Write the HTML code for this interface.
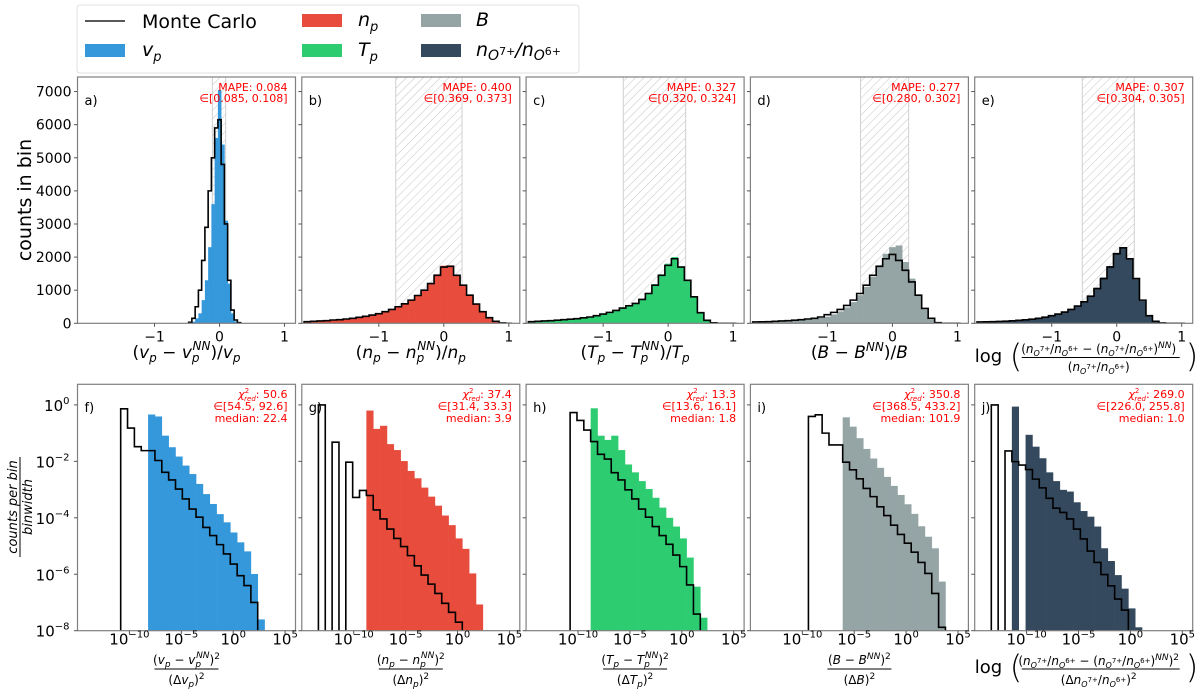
<!DOCTYPE html>
<html><head><meta charset="utf-8"><style>
html,body{margin:0;padding:0;background:#fff;}
svg{display:block;font-family:"DejaVu Sans","Liberation Sans",sans-serif;}
</style></head><body>
<svg id="fig" width="1200" height="693" viewBox="0 0 1200 693" xmlns="http://www.w3.org/2000/svg">
<defs>
<pattern id="hatch" patternUnits="userSpaceOnUse" width="6" height="6" patternTransform="rotate(45)">
<line x1="0" y1="0" x2="0" y2="6" stroke="#c4c4c4" stroke-width="1"/>
</pattern>
</defs>
<g id="legend">
<rect x="77" y="5" width="502" height="68" rx="3" fill="#fff" stroke="#e0e0e0" stroke-width="1"/>
<line x1="85" y1="21" x2="125" y2="21" stroke="#222" stroke-width="1.5"/>
<text x="142" y="28" font-size="19">Monte Carlo</text>
<rect x="85" y="44" width="40" height="13" fill="#3498db"/>
<text x="142" y="56" font-size="19" font-style="italic">v<tspan font-size="13" dy="5">p</tspan></text>
<rect x="302" y="14" width="40" height="13" fill="#e74c3c"/>
<text x="358" y="26" font-size="19" font-style="italic">n<tspan font-size="13" dy="5">p</tspan></text>
<rect x="302" y="44" width="40" height="13" fill="#2ecc71"/>
<text x="358" y="56" font-size="19" font-style="italic">T<tspan font-size="13" dy="5">p</tspan></text>
<rect x="421" y="14" width="40" height="13" fill="#95a5a6"/>
<text x="476" y="26" font-size="19" font-style="italic">B</text>
<rect x="421" y="44" width="40" height="13" fill="#34495e"/>
<text x="476" y="56" font-size="19" font-style="italic">n<tspan font-size="14" dy="4">O</tspan><tspan font-size="11" dy="-5" font-style="normal">7+</tspan><tspan dy="1">/n</tspan><tspan font-size="14" dy="4">O</tspan><tspan font-size="11" dy="-5" font-style="normal">6+</tspan></text>
</g>
<g id="plots"></g>
<text transform="translate(31,200) rotate(-90)" text-anchor="middle" font-size="19">counts in bin</text>
<g transform="translate(20,507) rotate(-90)">
<text x="0" y="-3" text-anchor="middle" font-size="13" font-style="italic">counts per bin</text>
<line x1="-50" y1="0" x2="50" y2="0" stroke="#000" stroke-width="1"/>
<text x="0" y="12" text-anchor="middle" font-size="13" font-style="italic">binwidth</text>
</g>
</svg>
<script>
// ---------- data ----------
const colors = ["#3498db","#e74c3c","#2ecc71","#95a5a6","#34495e"];
const panelLettersTop = ["a)","b)","c)","d)","e)"];
const panelLettersBot = ["f)","g)","h)","i)","j)"];
const mapeValues = ["0.084","0.400","0.327","0.277","0.307"];
const mapeIntervals = ["[0.085, 0.108]","[0.369, 0.373]","[0.320, 0.324]","[0.280, 0.302]","[0.304, 0.305]"];
const chiValues = ["50.6","37.4","13.3","350.8","269.0"];
const chiIntervals = ["[54.5, 92.6]","[31.4, 33.3]","[13.6, 16.1]","[368.5, 433.2]","[226.0, 255.8]"];
const medians = ["22.4","3.9","1.8","101.9","1.0"];
const hatchLow = [-0.11,-0.74,-0.69,-0.49,-0.53];
const hatchHigh = [0.095,0.28,0.27,0.25,0.27];
const topYTicks = [0,1000,2000,3000,4000,5000,6000,7000];
const topXTicks = [-1,0,1];
const botYTicks = [0,-2,-4,-6,-8];
const botXTicks = [-10,-5,0,5];

// panel a bins (centers, width 0.05)
const binsA = [-0.45,-0.4,-0.35,-0.3,-0.25,-0.2,-0.15,-0.1,-0.05,0,0.05,0.1,0.15,0.2,0.25,0.3];
const mcA =   [30,150,500,1000,1900,2900,4000,5000,5900,6150,4800,3000,1300,400,100,20];
const fillA = [10,50,150,300,700,1300,2300,3600,5600,7050,5400,3100,1200,300,60,10];
// panels b-e bins (centers, width 0.1)
const binsW = [-2.1,-2.0,-1.9,-1.8,-1.7,-1.6,-1.5,-1.4,-1.3,-1.2,-1.1,-1.0,-0.9,-0.8,-0.7,-0.6,-0.5,-0.4,-0.3,-0.2,-0.1,0,0.1,0.2,0.3,0.4,0.5,0.6,0.7,0.8,0.9,1.0];
const mcB =   [50,60,70,80,100,110,130,150,180,210,250,290,350,420,500,590,700,840,1000,1200,1450,1700,1720,1450,1150,850,580,350,170,60,10,0];
const fillB = [45,55,65,80,95,110,125,150,175,210,245,290,345,415,495,590,710,850,1010,1220,1480,1740,1750,1460,1150,840,570,340,160,55,8,0];
const mcC =   [50,60,70,80,95,110,125,140,165,190,230,280,330,390,460,530,600,720,900,1150,1450,1750,1950,1700,1300,800,320,90,15,0,0,0];
const fillC = [45,55,65,80,95,105,120,140,160,190,225,275,325,385,455,525,600,730,920,1180,1480,1800,2000,1720,1310,790,300,80,10,0,0,0];
const mcD =   [40,45,50,60,70,80,95,110,130,150,190,260,330,420,540,700,900,1150,1450,1720,1950,2080,1900,1600,1250,850,450,150,20,0,0,0];
const fillD = [35,40,45,50,60,70,80,95,110,130,160,200,270,360,480,640,850,1100,1400,1750,2100,2300,2350,1850,1350,850,420,120,10,0,0,0];
const mcE =   [40,45,50,55,65,75,90,105,125,150,185,230,280,340,420,520,650,820,1050,1350,1700,2100,2280,1950,1350,700,230,60,10,0,0,0];
const fillE = [35,40,45,55,65,75,85,100,120,145,180,225,275,335,415,515,650,830,1070,1380,1730,2130,2300,1960,1330,680,210,50,8,0,0,0];

// bottom panels: log10 bin start, bin width (decades), log10 values (null = empty)
const logStart = [-10.84,-13.4,-10.76,-9.41,-13.4];
const logWidth = 0.66;
const mcF = [-0.14,-0.82,-1.48,-1.62,-1.62,-1.97,-2.39,-2.66,-2.98,-3.33,-3.69,-3.98,-4.34,-4.63,-4.95,-5.28,-5.64,-6.05,-6.4,-7.0];
const fillF = [null,null,null,null,-0.34,-0.41,-1.09,-1.5,-1.83,-2.15,-2.45,-2.8,-3.16,-3.51,-3.87,-4.16,-4.52,-4.87,-5.19,-5.99,-7.6];
const mcG = [0.0,null,-1.32,null,-2.03,-3.28,-3.03,-3.21,-3.72,-4.04,-4.4,-4.73,-5.02,-5.34,-5.7,-6.03,-6.35,-6.68,-7.03,-7.35,-7.7];
const fillG = [null,null,null,null,null,null,null,-0.2,-0.85,-0.74,-1.39,-1.6,-1.99,-2.34,-2.6,-2.93,-3.25,-3.57,-3.92,-4.26,-4.73,-5.1,-5.97,-7.07];
const mcH = [-0.27,-0.55,-0.89,-1.3,-1.75,-1.92,-2.4,-2.66,-3.01,-3.33,-3.69,-3.98,-4.31,-4.63,-4.94,-5.32,-5.73,-6.38,-7.41];
const fillH = [null,null,null,-0.12,-1.09,-1.24,-1.09,-1.6,-2.11,-2.39,-2.7,-2.98,-3.29,-3.64,-4.0,-4.31,-4.73,-5.41,-6.44,-7.54];
const mcI = [-0.41,-0.35,-1.0,-1.42,-1.42,-2.03,-2.3,-2.62,-2.96,-3.25,-3.61,-3.92,-4.26,-4.59,-4.9,-5.22,-5.58,-5.97,-6.68,-7.88];
const fillI = [null,null,null,null,null,-0.44,-0.77,-1.18,-1.56,-1.9,-2.23,-2.55,-2.87,-3.19,-3.52,-3.86,-4.3,-4.67,-5.08,-6.26];
const mcJ = [0.0,null,-1.63,-2.01,-2.13,-2.29,-2.63,-2.94,-3.31,-3.66,-3.81,-4.04,-4.4,-4.75,-5.18,-5.58,-6.01,-6.41,-6.88,-7.27];
const fillJ = [null,null,null,-0.06,null,-1.06,-1.48,-1.89,-2.39,-2.7,-3.01,-3.07,-3.45,-3.76,-3.96,-4.31,-5.08,-5.53,-6.03,-6.51,-7.21,-7.88];

// ---------- layout ----------
const NS = "http://www.w3.org/2000/svg";
const lefts = [77.5,301.8,526.1,750.4,974.7];
const PW = 218;
const TOP0 = 77, TOP1 = 323.3, BOT0 = 384.3, BOT1 = 630.7;
const TXMIN = -2.185, TXMAX = 1.169, TYMAX = 7440;
const BXMIN = -15, BXMAX = 6, BYMIN = -8, BYMAX = 0.73;
function xTop(p, v){ return lefts[p] + (v - TXMIN)/(TXMAX - TXMIN)*PW; }
function yTop(v){ return TOP1 - v/TYMAX*(TOP1 - TOP0); }
function xBot(p, lv){ return lefts[p] + (lv - BXMIN)/(BXMAX - BXMIN)*PW; }
function yBot(lv){ const c = Math.max(BYMIN, Math.min(BYMAX, lv)); return BOT1 - (c - BYMIN)/(BYMAX - BYMIN)*(BOT1 - BOT0); }

const plots = document.getElementById("plots");
function mk(tag, attrs, parent){ const e = document.createElementNS(NS, tag); for (const k in attrs) e.setAttribute(k, attrs[k]); (parent||plots).appendChild(e); return e; }

const topData = [[binsA,0.05,fillA,mcA],[binsW,0.1,fillB,mcB],[binsW,0.1,fillC,mcC],[binsW,0.1,fillD,mcD],[binsW,0.1,fillE,mcE]];
const botData = [[fillF,mcF],[fillG,mcG],[fillH,mcH],[fillI,mcI],[fillJ,mcJ]];
const names = ["vp","np","tp","b","ratio"];

for (let p = 0; p < 5; p++) {
  const gt = mk("g", {});
  
  
  const clipT = mk("clipPath", {id: "ct"+p}, gt);
  mk("rect", {x: lefts[p], y: TOP0, width: PW, height: TOP1-TOP0}, clipT);
  const inner = mk("g", {"clip-path": "url(#ct"+p+")"}, gt);
  const hx0 = xTop(p, hatchLow[p]), hx1 = xTop(p, hatchHigh[p]);
  const hr = mk("rect", {x: hx0, y: TOP0, width: hx1-hx0, height: TOP1-TOP0, fill: "url(#hatch)", stroke: "#d0d0d0", "stroke-width": 1}, inner);
  
  
  const [bins, w, fill, mc] = topData[p];
  for (let i = 0; i < bins.length; i++) {
    if (!fill[i]) continue;
    const x0 = xTop(p, bins[i]-w/2), x1 = xTop(p, bins[i]+w/2);
    const r = mk("rect", {x: x0, y: yTop(fill[i]), width: x1-x0+0.3, height: TOP1 - yTop(fill[i]), fill: colors[p]}, inner);
    
    
  }
  let d = "M" + xTop(p, bins[0]-w/2) + "," + TOP1;
  for (let i = 0; i < bins.length; i++) {
    const y = yTop(mc[i]);
    d += " L" + xTop(p, bins[i]-w/2) + "," + y + " L" + xTop(p, bins[i]+w/2) + "," + y;
  }
  d += " L" + xTop(p, bins[bins.length-1]+w/2) + "," + TOP1;
  const mp = mk("path", {d: d, fill: "none", stroke: "#000", "stroke-width": 1.6}, inner);
  
  
  const fr = mk("rect", {x: lefts[p], y: TOP0, width: PW, height: TOP1-TOP0, fill: "none", stroke: "#808080", "stroke-width": 1.2}, gt);
  
  
  topYTicks.forEach(v => {
    const y = yTop(v);
    mk("line", {x1: lefts[p]-3.5, x2: lefts[p], y1: y, y2: y, stroke: "#555", "stroke-width": 1}, gt);
    if (p === 0) {
      const t = mk("text", {x: lefts[p]-6, y: y+5, "text-anchor": "end", "font-size": 14}, gt);
      t.textContent = String(v);
      
      
    }
  });
  topXTicks.forEach(v => {
    const x = xTop(p, v);
    mk("line", {x1: x, x2: x, y1: TOP1, y2: TOP1+3.5, stroke: "#555", "stroke-width": 1}, gt);
    const t = mk("text", {x: x, y: TOP1+18, "text-anchor": "middle", "font-size": 14}, gt);
    t.textContent = v < 0 ? "\u2212" + Math.abs(v) : String(v);
    
    
  });
  const lt = mk("text", {x: lefts[p]+7, y: 105, "font-size": 13}, gt);
  lt.textContent = panelLettersTop[p];
  
  
  const m1 = mk("text", {x: lefts[p]+PW-8, y: 91, "text-anchor": "end", "font-size": 11, fill: "#ff0000"}, gt);
  m1.textContent = "MAPE: " + mapeValues[p];
  
  
  const m2 = mk("text", {x: lefts[p]+PW-8, y: 102, "text-anchor": "end", "font-size": 11, fill: "#ff0000"}, gt);
  m2.textContent = "\u2208" + mapeIntervals[p];
  
  

  const gb = mk("g", {});
  
  
  const clipB = mk("clipPath", {id: "cb"+p}, gb);
  mk("rect", {x: lefts[p], y: BOT0, width: PW, height: BOT1-BOT0}, clipB);
  const innerB = mk("g", {"clip-path": "url(#cb"+p+")"}, gb);
  const [bf, bm] = botData[p];
  const s = logStart[p];
  for (let i = 0; i < bf.length; i++) {
    if (bf[i] === null) continue;
    const x0 = xBot(p, s + i*logWidth), x1 = xBot(p, s + (i+1)*logWidth);
    const y = yBot(bf[i]);
    const r = mk("rect", {x: x0, y: y, width: x1-x0+0.3, height: BOT1-y, fill: colors[p]}, innerB);
    
    
  }
  let db = "M" + xBot(p, s) + "," + BOT1;
  for (let i = 0; i < bm.length; i++) {
    const y = bm[i] === null ? BOT1 + 2 : yBot(bm[i]);
    db += " L" + xBot(p, s + i*logWidth) + "," + y + " L" + xBot(p, s + (i+1)*logWidth) + "," + y;
  }
  db += " L" + xBot(p, s + bm.length*logWidth) + "," + BOT1;
  const mb = mk("path", {d: db, fill: "none", stroke: "#000", "stroke-width": 1.6}, innerB);
  
  
  const fb = mk("rect", {x: lefts[p], y: BOT0, width: PW, height: BOT1-BOT0, fill: "none", stroke: "#808080", "stroke-width": 1.2}, gb);
  
  
  botYTicks.forEach(v => {
    const y = yBot(v);
    mk("line", {x1: lefts[p]-3.5, x2: lefts[p], y1: y, y2: y, stroke: "#555", "stroke-width": 1}, gb);
    if (p === 0) {
      const t = mk("text", {x: lefts[p]-8, y: y+6, "text-anchor": "end", "font-size": 15}, gb);
      
      
      t.innerHTML = '10<tspan font-size="10" dy="-7">' + (v < 0 ? "\u2212" + Math.abs(v) : String(v)) + '</tspan>';
    }
  });
  botXTicks.forEach(v => {
    const x = xBot(p, v);
    mk("line", {x1: x, x2: x, y1: BOT1, y2: BOT1+3.5, stroke: "#555", "stroke-width": 1}, gb);
    const t = mk("text", {x: x, y: BOT1+14, "text-anchor": "middle", "font-size": 15}, gb);
    
    
    t.innerHTML = '10<tspan font-size="10" dy="-7">' + (v < 0 ? "\u2212" + Math.abs(v) : String(v)) + '</tspan>';
  });
  const lb = mk("text", {x: lefts[p]+7, y: 412, "font-size": 13}, gb);
  lb.textContent = panelLettersBot[p];
  
  
  const c1 = mk("text", {x: lefts[p]+PW-8, y: 398, "text-anchor": "end", "font-size": 11, fill: "#ff0000"}, gb);
  c1.innerHTML = '<tspan font-style="italic">\u03C7</tspan><tspan font-size="7" dy="-5">2</tspan><tspan font-size="7" dx="-5" dy="8" font-style="italic">red</tspan><tspan dy="-3">: ' + chiValues[p] + '</tspan>';
  
  
  const c2 = mk("text", {x: lefts[p]+PW-8, y: 410, "text-anchor": "end", "font-size": 11, fill: "#ff0000"}, gb);
  c2.textContent = "\u2208" + chiIntervals[p];
  
  
  const c3 = mk("text", {x: lefts[p]+PW-8, y: 422, "text-anchor": "end", "font-size": 11, fill: "#ff0000"}, gb);
  c3.textContent = "median: " + medians[p];
  
  
}

const topSym = ["v","n","T","B"];
for (let p = 0; p < 4; p++) {
  const cx = lefts[p] + PW/2;
  const t = mk("text", {x: cx, y: 358, "text-anchor": "middle", "font-size": 17});
  
  
  const v = topSym[p];
  if (p < 3) {
    t.innerHTML = '(<tspan font-style="italic">' + v + '</tspan><tspan font-size="12" dy="4" font-style="italic">p</tspan><tspan dy="-4"> \u2212 </tspan><tspan font-style="italic">' + v + '</tspan><tspan font-size="12" dy="4" font-style="italic">p</tspan><tspan font-size="12" dx="-7" dy="-12" font-style="italic">NN</tspan><tspan dy="8">)/</tspan><tspan font-style="italic">' + v + '</tspan><tspan font-size="12" dy="4" font-style="italic">p</tspan>';
  } else {
    t.innerHTML = '(<tspan font-style="italic">B</tspan> \u2212 <tspan font-style="italic">B</tspan><tspan font-size="12" dy="-7" font-style="italic">NN</tspan><tspan dy="7">)/</tspan><tspan font-style="italic">B</tspan>';
  }
  const g = mk("g", {});
  
  
  const num = mk("text", {x: cx, y: 664, "text-anchor": "middle", "font-size": 12}, g);
  const den = mk("text", {x: cx, y: 684, "text-anchor": "middle", "font-size": 12}, g);
  if (p < 3) {
    num.innerHTML = '(<tspan font-style="italic">' + v + '</tspan><tspan font-size="9" dy="3" font-style="italic">p</tspan><tspan dy="-3"> \u2212 </tspan><tspan font-style="italic">' + v + '</tspan><tspan font-size="9" dy="3" font-style="italic">p</tspan><tspan font-size="9" dx="-5" dy="-9" font-style="italic">NN</tspan><tspan dy="6">)</tspan><tspan font-size="9" dy="-5">2</tspan>';
    den.innerHTML = '(\u0394<tspan font-style="italic">' + v + '</tspan><tspan font-size="9" dy="3" font-style="italic">p</tspan><tspan dy="-3">)</tspan><tspan font-size="9" dy="-5">2</tspan>';
  } else {
    num.innerHTML = '(<tspan font-style="italic">B</tspan> \u2212 <tspan font-style="italic">B</tspan><tspan font-size="9" dy="-5" font-style="italic">NN</tspan><tspan dy="5">)</tspan><tspan font-size="9" dy="-5">2</tspan>';
    den.innerHTML = '(\u0394<tspan font-style="italic">B</tspan>)<tspan font-size="9" dy="-5">2</tspan>';
  }
  mk("line", {x1: cx-32, x2: cx+32, y1: 669, y2: 669, stroke: "#000", "stroke-width": 1}, g);
}
function logTitle(cx, yl, ynum, yline, yden, name, bottom) {
  const g = mk("g", {});
  
  
  const lg = mk("text", {x: cx-109, y: yl, "font-size": 18}, g);
  lg.textContent = "log";
  const lp = mk("text", {x: cx-74, y: yl+5, "font-size": 32, "font-weight": "lighter"}, g);
  lp.textContent = "(";
  const rp = mk("text", {x: cx+102, y: yl+5, "font-size": 32, "font-weight": "lighter"}, g);
  rp.textContent = ")";
  const n = mk("text", {x: cx+15, y: ynum, "text-anchor": "middle", "font-size": 12}, g);
  n.innerHTML = '(<tspan font-style="italic">n</tspan><tspan font-size="8" dy="3" font-style="italic">O</tspan><tspan font-size="7" dy="-5">7+</tspan><tspan dy="2">/</tspan><tspan font-style="italic">n</tspan><tspan font-size="8" dy="3" font-style="italic">O</tspan><tspan font-size="7" dy="-5">6+</tspan><tspan dy="2"> \u2212 (</tspan><tspan font-style="italic">n</tspan><tspan font-size="8" dy="3" font-style="italic">O</tspan><tspan font-size="7" dy="-5">7+</tspan><tspan dy="2">/</tspan><tspan font-style="italic">n</tspan><tspan font-size="8" dy="3" font-style="italic">O</tspan><tspan font-size="7" dy="-5">6+</tspan><tspan dy="2">)</tspan><tspan font-size="9" dy="-5" font-style="italic">NN</tspan><tspan dy="5">)</tspan>' + (bottom ? '<tspan font-size="9" dy="-5">2</tspan>' : '');
  const dd = mk("text", {x: cx+15, y: yden, "text-anchor": "middle", "font-size": 12}, g);
  dd.innerHTML = '(' + (bottom ? '\u0394' : '') + '<tspan font-style="italic">n</tspan><tspan font-size="8" dy="3" font-style="italic">O</tspan><tspan font-size="7" dy="-5">7+</tspan><tspan dy="2">/</tspan><tspan font-style="italic">n</tspan><tspan font-size="8" dy="3" font-style="italic">O</tspan><tspan font-size="7" dy="-5">6+</tspan><tspan dy="2">)</tspan>' + (bottom ? '<tspan font-size="9" dy="-5">2</tspan>' : '');
  mk("line", {x1: cx-62, x2: cx+96, y1: yline, y2: yline, stroke: "#000", "stroke-width": 1}, g);
}
const cxE = lefts[4] + PW/2;
logTitle(cxE, 362, 353, 357.5, 371, "x-axis-title-log-ratio", false);
logTitle(cxE, 673, 665, 669, 684, "chi2-x-axis-title-log-ratio", true);
</script>
</body></html>
